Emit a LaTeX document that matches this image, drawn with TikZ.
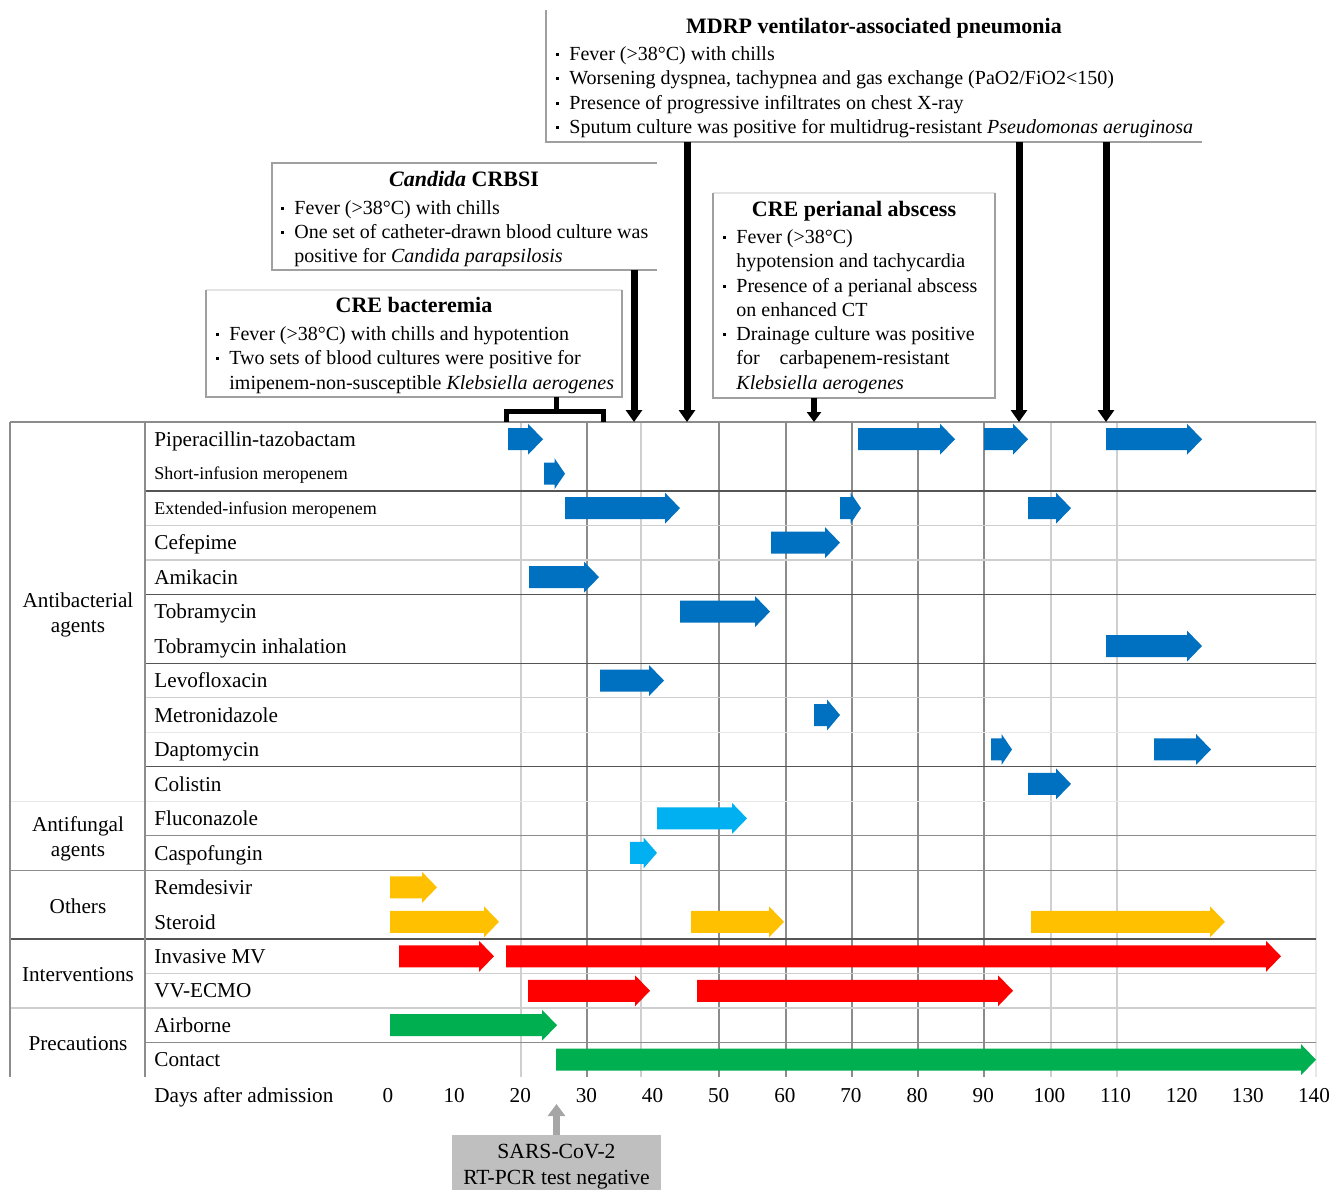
\documentclass[tikz,border=0pt]{standalone}
\usepackage{fontspec}
\setmainfont{Liberation Serif}
\usetikzlibrary{arrows.meta}
\definecolor{cblue}{HTML}{0070C0}
\definecolor{clblue}{HTML}{00B0F0}
\definecolor{cyellow}{HTML}{FFC000}
\definecolor{cred}{HTML}{FF0000}
\definecolor{cgreen}{HTML}{00B050}
\definecolor{gdark}{HTML}{555555}
\definecolor{gmid}{HTML}{8C8C8C}
\definecolor{glight}{HTML}{CFCFCF}
\definecolor{gvlight}{HTML}{E8E8E8}
\definecolor{edgedk}{HTML}{A0A0A0}
\definecolor{edgelt}{HTML}{E4E4E4}
\newcommand\bul{\llap{\rule[2pt]{1.6pt}{1.6pt}\hspace{5.2pt}}}
\newcommand\bararrow[4]{%
  \pgfmathsetmacro\bahl{min(15,0.5*(#3-#2))}%
  \pgfmathsetmacro\bay{422+34.47*(#4-0.5)}%
  \pgfmathsetmacro\bax{#3-\bahl}%
  \fill[#1] (#2,\bay-11) -- (\bax,\bay-11) -- (\bax,\bay-15.5) -- (#3,\bay)
    -- (\bax,\bay+15.5) -- (\bax,\bay+11) -- (#2,\bay+11) -- cycle;}
\begin{document}
\begin{tikzpicture}[x=0.5pt,y=-0.5pt,
  bblue/.style={fill=cblue}, blblue/.style={fill=clblue},
  byellow/.style={fill=cyellow}, bred/.style={fill=cred}, bgreen/.style={fill=cgreen},
  hdark/.style={draw=gdark, line width=0.7pt},
  hmid/.style={draw=gmid, line width=0.6pt},
  hlight/.style={draw=glight, line width=0.6pt},
  hvlight/.style={draw=gvlight, line width=0.6pt},
  lab/.style={anchor=base west, inner sep=0pt, yshift=-3.6pt, font=\fontsize{10.6}{12}\selectfont},
  slab/.style={anchor=base west, inner sep=0pt, yshift=-3.1pt, font=\fontsize{9}{11}\selectfont},
  grp/.style={align=center, inner sep=0pt, font=\fontsize{10.6}{12.5}\selectfont},
  btxt/.style={anchor=base west, inner sep=0pt, yshift=-3.1pt, font=\fontsize{10}{12}\selectfont},
  ttl/.style={anchor=base, inner sep=0pt, yshift=-3.6pt, font=\fontsize{11}{13}\selectfont\bfseries},
  num/.style={anchor=base, inner sep=0pt, yshift=-3.6pt, font=\fontsize{10.6}{12}\selectfont},
  boxn/.style={inner sep=0pt, outer sep=0pt, draw=none},
  edgeA/.style={draw=edgedk, line width=0.6pt},
  edgeB/.style={draw=edgelt, line width=0.6pt},
  blk/.style={draw=black, line width=3.5pt, -{Triangle[width=8pt,length=6pt]}},
  blks/.style={draw=black, line width=2.75pt, -{Triangle[width=7pt,length=5pt]}},
  garr/.style={draw=gray!70, line width=3.2pt, -{Triangle[width=8.5pt,length=6pt]}},
  brk/.style={draw=black, line width=2.5pt}]
\useasboundingbox (0,0) rectangle (1343,1189);

% ---- grid
\foreach \x in {587,719,786,852,918,984} \draw[hmid] (\x,422) -- (\x,1077);
\foreach \x in {521,641,1051,1117} \draw[hlight] (\x,422) -- (\x,1077);
\draw[hvlight] (1316,422) -- (1316,1077);
\draw[hdark] (145,490.9) -- (1316,490.9);
\draw[hlight] (145,525.4) -- (1316,525.4);
\draw[hlight] (145,559.9) -- (1316,559.9);
\draw[hdark] (145,594.4) -- (1316,594.4);
\draw[hdark] (145,663.3) -- (1316,663.3);
\draw[hlight] (145,697.8) -- (1316,697.8);
\draw[hvlight] (145,732.2) -- (1316,732.2);
\draw[hdark] (145,766.7) -- (1316,766.7);
\draw[hvlight] (10,801.2) -- (1316,801.2);
\draw[hmid] (145,835.6) -- (1316,835.6);
\draw[hmid] (10,870.1) -- (1316,870.1);
\draw[hdark] (10,939.0) -- (1316,939.0);
\draw[hlight] (145,973.5) -- (1316,973.5);
\draw[hlight] (10,1008) -- (1316,1008);
\draw[hmid] (145,1042.5) -- (1316,1042.5);
\draw[hmid] (10,422) -- (1316,422);
\draw[hmid] (10,422) -- (10,1077);
\draw[hmid] (145,422) -- (145,1077);

% ---- boxes
\node[boxn, minimum width=328pt, minimum height=66pt] (mdrp) at (874,76) {};
\node[boxn, minimum width=192.5pt, minimum height=53.5pt] (cand) at (464.5,216.5) {};
\node[boxn, minimum width=208pt, minimum height=53.5pt] (crebac) at (414,343.5) {};
\node[boxn, minimum width=141pt, minimum height=102.5pt] (peri) at (854,295.5) {};
\draw[edgeA] (mdrp.north west) -- (mdrp.south west) -- (mdrp.south east);
\draw[edgeA] (cand.north east) -- (cand.north west) -- (cand.south west) -- (cand.south east);
\foreach \b in {crebac,peri}{
  \draw[edgeB] (\b.north west) -- (\b.north east);
  \draw[edgeA] (\b.north west) -- (\b.south west) -- (\b.south east) -- (\b.north east);
}

% ---- box texts
\node[ttl] (mt) at (874,26) {MDRP ventilator-associated pneumonia};
\node[btxt] (m1) at (569,54) {\bul Fever (>38°C) with chills};
\node[btxt] (m2) at (569,78) {\bul Worsening dyspnea, tachypnea and gas exchange (PaO2/FiO2<150)};
\node[btxt] (m3) at (569,103) {\bul Presence of progressive infiltrates on chest X-ray};
\node[btxt] (m4) at (569,127) {\bul Sputum culture was positive for multidrug-resistant \textit{Pseudomonas aeruginosa}};

\node[ttl] (ct) at (464,179) {\textit{Candida} CRBSI};
\node[btxt] (c1) at (294,208) {\bul Fever (>38°C) with chills};
\node[btxt] (c2) at (294,232) {\bul One set of catheter-drawn blood culture was};
\node[btxt] (c3) at (294,256) {positive for \textit{Candida parapsilosis}};

\node[ttl] (bt) at (414,305) {CRE bacteremia};
\node[btxt] (b1) at (229,334) {\bul Fever (>38°C) with chills and hypotention};
\node[btxt] (b2) at (229,358) {\bul Two sets of blood cultures were positive for};
\node[btxt] (b3) at (229,383) {imipenem-non-susceptible \textit{Klebsiella aerogenes}};

\node[ttl] (pt) at (854,209) {CRE perianal abscess};
\node[btxt] (p1) at (736,237) {\bul Fever (>38°C)};
\node[btxt] (p2) at (736,261) {hypotension and tachycardia};
\node[btxt] (p3) at (736,286) {\bul Presence of a perianal abscess};
\node[btxt] (p4) at (736,310) {on enhanced CT};
\node[btxt] (p5) at (736,334) {\bul Drainage culture was positive};
\node[btxt] (p6) at (736,358) {for\hspace{7.5pt} carbapenem-resistant};
\node[btxt] (p7) at (736,383) {\textit{Klebsiella aerogenes}};

% ---- event arrows
\coordinate (tipC) at (634,422);
\coordinate (tipM1) at (687,422);
\coordinate (tipM2) at (1019,422);
\coordinate (tipM3) at (1106,422);
\coordinate (tipP) at (814,422);
\coordinate (brkTop) at (556.5,411.5);
\draw[blk] (cand.south -| tipC) -- (tipC);
\draw[blk] (mdrp.south -| tipM1) -- (tipM1);
\draw[blk] (mdrp.south -| tipM2) -- (tipM2);
\draw[blk] (mdrp.south -| tipM3) -- (tipM3);
\draw[blks] (peri.south -| tipP) -- (tipP);
\draw[brk] (506.5,422) -- (506.5,411.5) -- (603.5,411.5) -- (603.5,422);
\draw[brk] (crebac.south -| brkTop) -- (brkTop);

% ---- bars
\bararrow{bblue}{508}{543}{1}
\bararrow{bblue}{858}{955}{1}
\bararrow{bblue}{984}{1028}{1}
\bararrow{bblue}{1106}{1202}{1}
\bararrow{bblue}{544}{565}{2}
\bararrow{bblue}{565}{680}{3}
\bararrow{bblue}{840}{861}{3}
\bararrow{bblue}{1028}{1071}{3}
\bararrow{bblue}{771}{840}{4}
\bararrow{bblue}{529}{599}{5}
\bararrow{bblue}{680}{770}{6}
\bararrow{bblue}{1106}{1202}{7}
\bararrow{bblue}{600}{664}{8}
\bararrow{bblue}{814}{840}{9}
\bararrow{bblue}{991}{1012}{10}
\bararrow{bblue}{1154}{1211}{10}
\bararrow{bblue}{1028}{1071}{11}
\bararrow{blblue}{657}{747}{12}
\bararrow{blblue}{630}{657}{13}
\bararrow{byellow}{390}{437}{14}
\bararrow{byellow}{390}{499}{15}
\bararrow{byellow}{691}{784}{15}
\bararrow{byellow}{1031}{1225}{15}
\bararrow{bred}{399}{494}{16}
\bararrow{bred}{506}{1281}{16}
\bararrow{bred}{528}{650}{17}
\bararrow{bred}{697}{1013}{17}
\bararrow{bgreen}{390}{557}{18}
\bararrow{bgreen}{556}{1316}{19}

% ---- row labels
\node[lab] (r1) at (154,439.2) {Piperacillin-tazobactam};
\node[slab] (r2) at (154,473.7) {Short-infusion meropenem};
\node[slab] (r3) at (154,508.2) {Extended-infusion meropenem};
\foreach \i/\t in {4/Cefepime,5/Amikacin,6/Tobramycin,7/Tobramycin inhalation,
  8/Levofloxacin,9/Metronidazole,10/Daptomycin,11/Colistin,12/Fluconazole,
  13/Caspofungin,14/Remdesivir,15/Steroid,16/Invasive MV,17/VV-ECMO,
  18/Airborne,19/Contact}
  \node[lab] (r\i) at (154,{422+34.47*(\i-0.5)}) {\t};

% ---- group labels
\node[grp] (g1) at (78,615) {Antibacterial\\agents};
\node[grp] (g2) at (78,839) {Antifungal\\agents};
\node[grp] (g3) at (78,906) {Others};
\node[grp] (g4) at (78,975) {Interventions};
\node[grp] (g5) at (78,1044) {Precautions};

% ---- axis
\node[lab] (ax) at (154,1095) {Days after admission};
\foreach \d in {0,10,...,140}
  \node[num] (n\d) at ({388+6.614*\d},1095) {\d};

% ---- SARS box
\node[boxn, fill=gray!50, minimum width=104.5pt, minimum height=32pt,
  align=center, font=\fontsize{10.8}{13}\selectfont] (sars) at (556.5,1167)
  {SARS-CoV-2\\RT-PCR test negative};
\coordinate (sarsTip) at (556.5,1104);
\draw[garr] (sars.north) -- (sarsTip);
\end{tikzpicture}
\end{document}
